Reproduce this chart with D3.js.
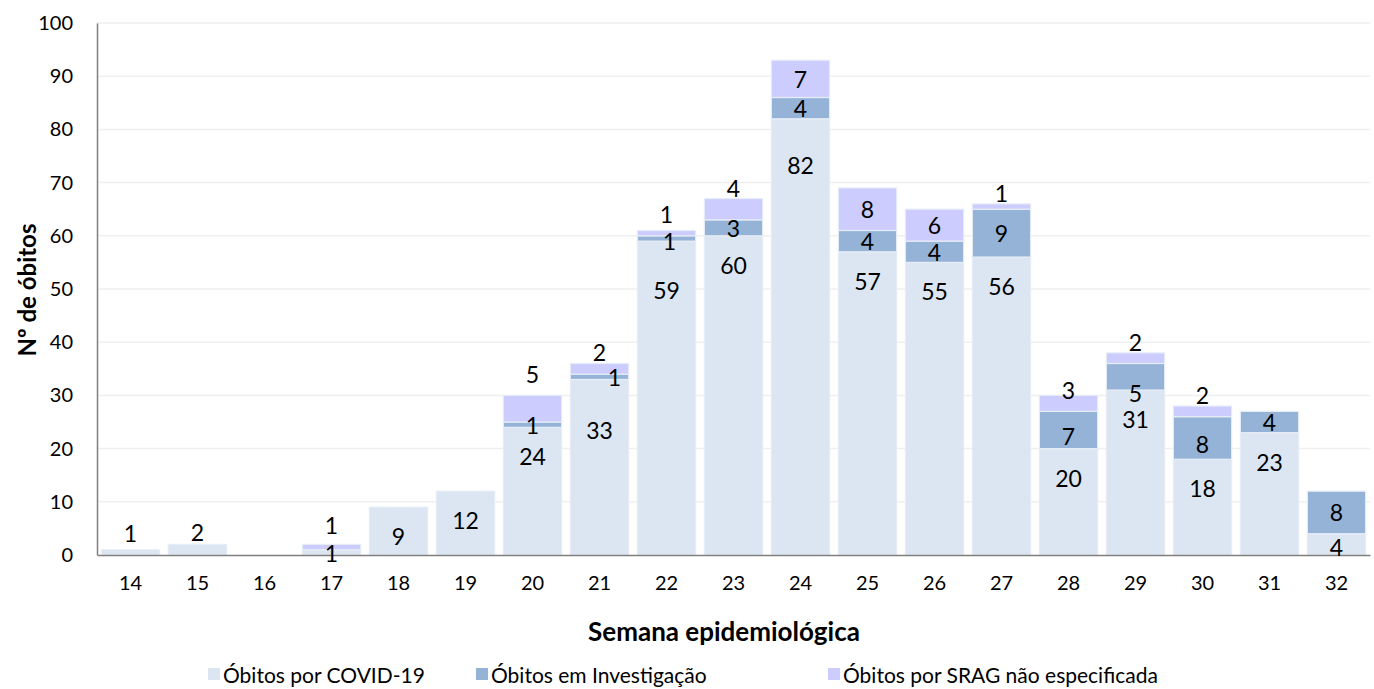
<!DOCTYPE html>
<html><head><meta charset="utf-8">
<script src="https://cdn.jsdelivr.net/npm/d3@7"></script>
<style>body{margin:0;background:#fff;} svg{display:block;font-family:Lato,"Open Sans",sans-serif;}</style>
</head><body><svg id="c" width="1374" height="689"></svg>
<script>
const weeks = ["14","15","16","17","18","19","20","21","22","23","24","25","26","27","28","29","30","31","32"];
const covid = [1,2,0,1,9,12,24,33,59,60,82,57,55,56,20,31,18,23,4];
const investigacao = [0,0,0,0,0,0,1,1,1,3,4,4,4,9,7,5,8,4,8];
const srag = [0,0,0,1,0,0,5,2,1,4,7,8,6,1,3,2,2,0,0];
const seriesNames = ["Óbitos por COVID-19","Óbitos em Investigação","Óbitos por SRAG não especificada"];
const yTicks = [0,10,20,30,40,50,60,70,80,90,100];

// layout / style (not data)
const colors = ["#dce6f2","#95b3d7","#ccccff"];
const nudges = { // label fine-tuning in px: key "series-week"
  "0-14":[0,-11],"0-15":[0,-6],"0-17":[0,9],"0-21":[0,22],"0-22":[0,20],"0-24":[0,17],"0-32":[0,-16],
  "1-21":[15,0],"1-22":[3,3],"1-29":[0,16],"1-28":[0,6],"1-30":[0,6],
  "2-17":[0,-8],"2-20":[0,-10],"2-22":[0,-5],"2-28":[0,6]
};

const svg = d3.select("#c");
const x = d3.scaleBand().domain(weeks).range([97,1370]).paddingInner(0.13).paddingOuter(0.065);
const y = d3.scaleLinear().domain([0,100]).range([555,23]);

// gridlines
svg.append("g").selectAll("line").data(yTicks.slice(1)).join("line")
  .attr("x1",97).attr("x2",1370).attr("y1",d=>y(d)).attr("y2",d=>y(d))
  .attr("stroke","#efefef").attr("stroke-width",1.5);

const data = weeks.map((w,i)=>({week:w, s0:covid[i], s1:investigacao[i], s2:srag[i]}));
const stack = d3.stack().keys(["s0","s1","s2"])(data);

const g = svg.append("g");
stack.forEach((layer,si)=>{
  g.append("g").selectAll("rect").data(layer.filter(d=>d[1]-d[0]>0)).join("rect")
    .attr("x",d=>x(d.data.week)).attr("width",x.bandwidth())
    .attr("y",d=>y(d[1])).attr("height",d=>y(d[0])-y(d[1]))
    .attr("fill",colors[si]).attr("stroke","#e6edf6").attr("stroke-width",1.2);
});

// axes
const yAxis = svg.append("g").attr("transform","translate(97,0)")
  .call(d3.axisLeft(y).tickValues(yTicks).tickSize(0).tickPadding(24));
yAxis.select(".domain").attr("stroke","#7f7f7f").attr("stroke-width",1.5);
yAxis.selectAll("text").attr("font-size",20).attr("fill","#000").attr("font-family","Lato");

const xAxis = svg.append("g").attr("transform","translate(0,555)")
  .call(d3.axisBottom(x).tickSize(0).tickPadding(21));
xAxis.select(".domain").attr("stroke","#7f7f7f").attr("stroke-width",1.5);
xAxis.selectAll("text").attr("font-size",20).attr("fill","#000").attr("font-family","Lato");

// labels
const lab = svg.append("g").attr("font-size",23).attr("text-anchor","middle").attr("dominant-baseline","central").attr("fill","#000");
stack.forEach((layer,si)=>{
  layer.forEach(d=>{
    const v = d[1]-d[0];
    if(v<=0) return;
    const w = d.data.week;
    let cx = x(w)+x.bandwidth()/2, cy;
    const top = y(d[1]), bot = y(d[0]), h = bot-top;
    if(si===0){ cy = h<15 ? top-6 : top+29; }
    else if(si===1){ cy = (top+bot)/2; }
    else { cy = h>=30 ? (top+bot)/2 : top-11; }
    const n = nudges[si+"-"+w];
    if(n){ cx+=n[0]; cy+=n[1]; }
    lab.append("text").attr("x",cx).attr("y",cy).text(v);
  });
});

// axis titles
svg.append("text").attr("transform","translate(26,290) rotate(-90)").attr("text-anchor","middle")
  .attr("dominant-baseline","central").attr("font-weight","bold").attr("font-size",24).text("Nº de óbitos");
svg.append("text").attr("x",724).attr("y",631).attr("text-anchor","middle")
  .attr("dominant-baseline","central").attr("font-weight","bold").attr("font-size",26).text("Semana epidemiológica");

// legend
const legX = [208,476,828];
const leg = svg.append("g");
seriesNames.forEach((n,i)=>{
  leg.append("rect").attr("x",legX[i]).attr("y",668).attr("width",12).attr("height",12).attr("fill",colors[i]);
  leg.append("text").attr("x",legX[i]+15).attr("y",674).attr("dominant-baseline","central")
    .attr("font-size",21).text(n);
});
</script></body></html>
